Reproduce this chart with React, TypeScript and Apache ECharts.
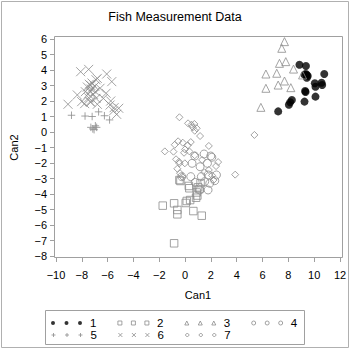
import { useEffect, useRef } from 'react';
import * as echarts from 'echarts';

const chartTitle = 'Fish Measurement Data';
const xAxisName = 'Can1';
const yAxisName = 'Can2';
const groupNames = ['1', '2', '3', '4', '5', '6', '7'];

const group1: number[][] = [
  [8.86, 4.34], [9.36, 4.26], [9.36, 3.74], [9.5, 3.61], [9.43, 3.68], [9.25, 3.7], [9.43, 3.5],
  [10.78, 3.74], [10.05, 3.14], [10.1, 2.92], [10.57, 3.18], [10.62, 3.03], [9.33, 2.58], [9.3, 2.65],
  [10.1, 2.28], [9.25, 1.96], [8.27, 2.06], [8.14, 1.92], [8.04, 1.76], [7.21, 1.33],
];
const group2: number[][] = [
  [-0.36, -3.16], [0.33, -3.63], [1.11, -3.68], [0.95, -4.1], [0.85, -4.24], [0.13, -4.45], [0.39, -4.39],
  [0.05, -4.58], [-1.73, -4.75], [-0.85, -4.6], [-0.6, -5.03], [-0.6, -5.31], [0.64, -5.1], [1.29, -5.4],
  [-0.85, -7.18], [0.29, -3.48], [1.0, -3.57], [-0.44, -3.1], [1.2, -3.3], [0.9, -3.9],
];
const group3: number[][] = [
  [7.7, 5.83], [7.49, 5.4], [7.31, 4.43], [7.8, 4.54], [8.4, 4.06], [6.26, 3.74], [7.1, 3.79],
  [7.7, 3.29], [7.21, 3.03], [8.19, 2.86], [6.26, 2.82], [5.87, 1.59], [9.1, 3.68],
];
const group4: number[][] = [
  [0.75, -1.55], [0.54, -2.02], [1.47, -1.42], [1.99, -1.55], [1.73, -2.02], [1.16, -2.24], [0.44, -2.88],
  [1.26, -2.88], [1.78, -2.77], [2.43, -2.77], [1.52, -3.2], [1.91, -3.31], [2.3, -3.14], [1.78, -3.74],
  [1.14, -3.74], [-0.26, -2.88], [0.78, -3.25], [2.07, -1.63],
];
const group5: number[][] = [
  [-8.8, 1.08], [-7.75, 1.03], [-7.2, 1.0], [-6.7, 1.3], [-6.25, 1.05], [-5.85, 0.78], [-7.3, 0.3],
  [-7.15, 0.2], [-6.95, 0.4], [-7.05, 0.15], [-6.85, 0.3],
];
const group6: number[][] = [
  [-8.09, 3.89], [-7.47, 4.04], [-6.07, 3.74], [-5.68, 3.25], [-6.8, 3.46], [-7.42, 3.08], [-7.21, 3.16],
  [-7.57, 2.9], [-7.26, 2.77], [-7.0, 2.95], [-6.9, 3.37], [-6.59, 2.82], [-7.73, 2.6], [-8.35, 2.39],
  [-7.1, 2.43], [-7.47, 2.21], [-6.12, 2.5], [-6.33, 2.17], [-5.76, 2.0], [-5.81, 1.74], [-9.07, 1.79],
  [-7.78, 1.83], [-7.31, 1.92], [-6.8, 1.79], [-5.5, 1.57], [-5.14, 1.53], [-5.3, 1.14], [-5.56, 1.35],
  [-6.9, 2.17], [-8.01, 1.96], [-7.36, 1.96], [-7.3, 3.0], [-7.35, 2.6], [-6.95, 2.6], [-7.5, 2.45],
];
const group7: number[][] = [
  [5.37, -0.19], [3.88, -2.75], [-0.44, 0.95], [0.23, 0.56], [0.49, 0.47], [0.72, 0.52], [0.6, 0.3],
  [0.75, 0.08], [0.9, 0.24], [1.16, -0.26], [-0.54, -0.6], [-0.18, -0.69], [-0.8, -0.82], [0.44, -0.65],
  [0.21, -0.86], [0.0, -1.12], [-1.57, -1.25], [-0.9, -1.27], [-0.08, -1.34], [0.33, -1.25], [1.84, -0.9],
  [0.75, -1.5], [-0.7, -1.76], [-0.44, -2.02], [-0.02, -2.02], [-0.47, -1.92], [-0.6, -2.37],
  [-0.39, -2.66], [-0.23, -2.88], [1.84, -2.45], [2.56, -1.94], [2.09, -2.8], [1.32, -1.8],
  [2.2, -3.1], [1.5, -2.6], [2.4, -2.2],
];

const xMin = -10;
const xMax = 12;
const xStep = 2;
const yMin = -8;
const yMax = 6;
const yStep = 1;

const GRAY = '#8c8c8c';
const FRAME = '#a0a0a0';
const FONT = '"Liberation Sans", Arial, Helvetica, sans-serif';
const HOLLOW = { color: 'rgba(0,0,0,0)', borderColor: GRAY, borderWidth: 1 };

const PLUS = 'path://M0,5L10,5M5,0L5,10';
const CROSS = 'path://M0,0L10,10M10,0L0,10';

// three repeated small symbols for legend icons
const OFFS = [0, 13.5, 27];
function triple(kind: string): string {
  const parts = OFFS.map((o) => {
    switch (kind) {
      case 'circle':
        return `M${o},2a2,2 0 1,0 4,0a2,2 0 1,0 -4,0Z`;
      case 'rect':
        return `M${o},0L${o + 4},0L${o + 4},4L${o},4Z`;
      case 'triangle':
        return `M${o + 2},0L${o + 4},4L${o},4Z`;
      case 'diamond':
        return `M${o + 2},0L${o + 4},2L${o + 2},4L${o},2Z`;
      case 'plus':
        return `M${o},2L${o + 4},2M${o + 2},0L${o + 2},4`;
      default:
        return `M${o},0L${o + 4},4M${o + 4},0L${o},4`;
    }
  });
  return 'path://' + parts.join('');
}

const minus = (v: number) => String(v).replace('-', '\u2212');

export default function App() {
  const ref = useRef<HTMLDivElement>(null);

  useEffect(() => {
    if (!ref.current) return;
    const chart = echarts.init(ref.current, null, { renderer: 'svg' });

    const seriesDefs = [
      { data: group1, symbol: 'circle', size: 8, itemStyle: { color: '#000' }, icon: 'circle' },
      { data: group2, symbol: 'rect', size: 7.5, itemStyle: HOLLOW, icon: 'rect' },
      { data: group3, symbol: 'triangle', size: 8, itemStyle: HOLLOW, icon: 'triangle' },
      { data: group4, symbol: 'circle', size: 8, itemStyle: HOLLOW, icon: 'circle' },
      { data: group5, symbol: PLUS, size: 7.5, itemStyle: HOLLOW, icon: 'plus' },
      { data: group6, symbol: CROSS, size: 9, itemStyle: HOLLOW, icon: 'cross' },
      { data: group7, symbol: 'diamond', size: 7, itemStyle: HOLLOW, icon: 'diamond' },
    ];

    const legendItems = seriesDefs.map((s, i) => ({
      name: groupNames[i],
      icon: triple(s.icon),
      itemStyle:
        i === 0
          ? { color: '#000', borderWidth: 0 }
          : { color: 'rgba(0,0,0,0)', borderColor: GRAY, borderWidth: 1 },
    }));

    const legendCommon = {
      orient: 'horizontal',
      left: 51,
      padding: 0,
      itemWidth: 31,
      itemHeight: 4,
      itemGap: 21,
      selectedMode: false,
      textStyle: { fontSize: 11.5, lineHeight: 11, color: '#000', fontFamily: FONT, padding: [0, 0, 0, 3] },
    };

    chart.setOption({
      animation: false,
      backgroundColor: '#fff',
      textStyle: { fontFamily: FONT },
      title: {
        text: chartTitle,
        left: 'center',
        top: 5,
        textStyle: { fontSize: 12.5, fontWeight: 'normal', color: '#000', fontFamily: FONT },
      },
      grid: { left: 56, top: 39, width: 284, height: 217, containLabel: false, outerBoundsMode: 'none' },
      xAxis: {
        type: 'value',
        min: xMin,
        max: xMax,
        interval: xStep,
        offset: 2,
        name: xAxisName,
        nameLocation: 'middle',
        nameGap: 31,
        nameTextStyle: { fontSize: 11, color: '#000', fontFamily: FONT },
        axisLine: { show: false, onZero: false },
        axisTick: { show: true, length: 4, lineStyle: { color: FRAME } },
        axisLabel: { fontSize: 11, color: '#000', margin: 11, formatter: minus, showMinLabel: true, showMaxLabel: true },
        splitLine: { show: false },
      },
      yAxis: {
        type: 'value',
        min: yMin,
        max: yMax,
        interval: yStep,
        offset: 2,
        name: yAxisName,
        nameLocation: 'middle',
        nameGap: 35,
        nameTextStyle: { fontSize: 11, color: '#000', fontFamily: FONT },
        axisLine: { show: false, onZero: false },
        axisTick: { show: true, length: 4, lineStyle: { color: FRAME } },
        axisLabel: { fontSize: 11, color: '#000', margin: 7, formatter: minus, showMinLabel: true, showMaxLabel: true },
        splitLine: { show: false },
      },
      legend: [
        { ...legendCommon, top: 317, data: legendItems.slice(0, 4) },
        { ...legendCommon, top: 329, data: legendItems.slice(4) },
      ],
      graphic: [
        {
          type: 'rect',
          shape: { x: 1.5, y: 1.5, width: 347, height: 346 },
          style: { fill: 'none', stroke: '#b0b0b0', lineWidth: 1 },
          silent: true,
        },
        {
          type: 'rect',
          shape: { x: 54.5, y: 36.5, width: 288, height: 221 },
          style: { fill: 'none', stroke: FRAME, lineWidth: 1 },
          silent: true,
        },
        {
          type: 'rect',
          shape: { x: 45.5, y: 310.5, width: 259, height: 34 },
          style: { fill: 'none', stroke: FRAME, lineWidth: 1 },
          silent: true,
        },
      ],
      series: seriesDefs.map((s, i) => ({
        type: 'scatter',
        name: groupNames[i],
        data: s.data,
        symbol: s.symbol,
        symbolSize: s.size,
        itemStyle: s.itemStyle,
        emphasis: { disabled: true },
      })),
    });

    return () => chart.dispose();
  }, []);

  return (
    <div
      ref={ref}
      style={{ position: 'absolute', left: 0, top: 0, width: 350, height: 350, background: '#fff' }}
    />
  );
}
